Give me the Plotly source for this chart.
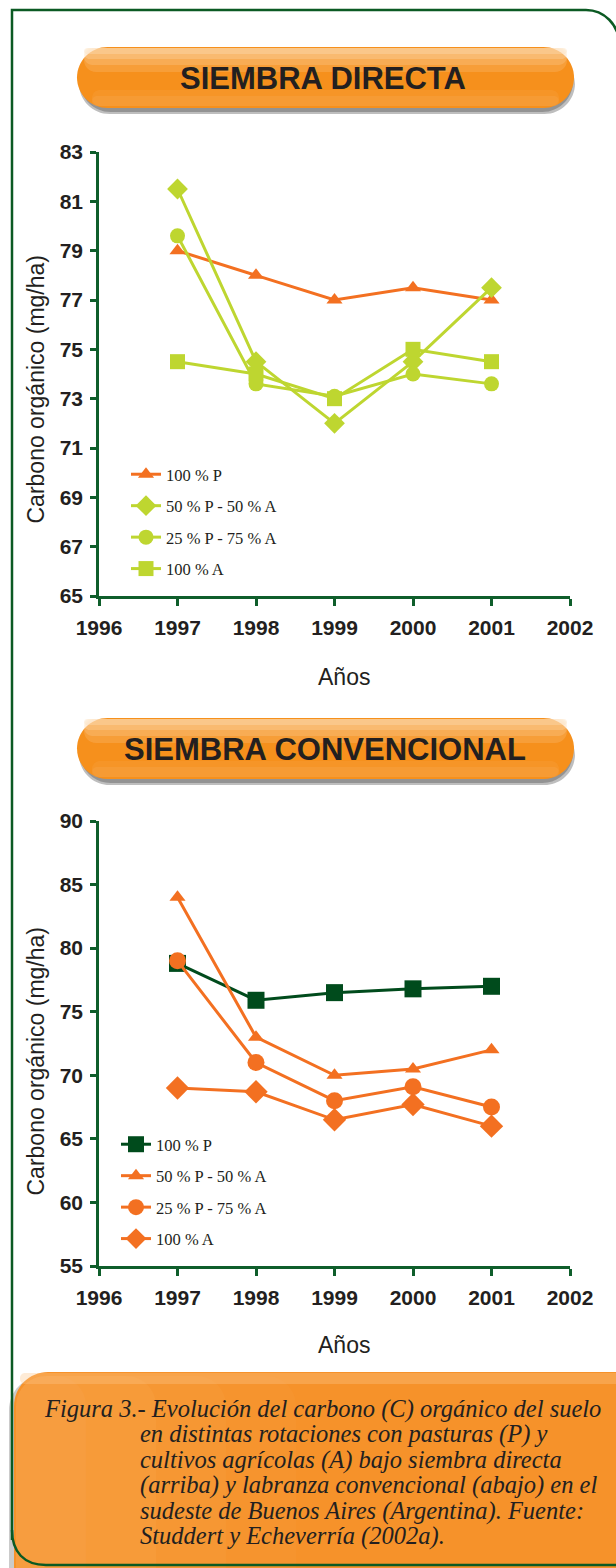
import plotly.graph_objects as go

W, H = 616, 1568

# ---------------- data ----------------
years = [1997, 1998, 1999, 2000, 2001]
series_names = ["100 % P", "50 % P - 50 % A", "25 % P - 75 % A", "100 % A"]

# Siembra directa (top)
sd_100P = [79.0, 78.0, 77.0, 77.5, 77.0]
sd_50P50A = [81.5, 74.5, 72.0, 74.5, 77.5]
sd_25P75A = [79.6, 73.6, 73.1, 74.0, 73.6]
sd_100A = [74.5, 74.0, 73.0, 75.0, 74.5]

# Siembra convencional (bottom)
sc_100P = [78.8, 75.9, 76.5, 76.8, 77.0]
sc_50P50A = [84.0, 73.0, 70.0, 70.5, 72.0]
sc_25P75A = [79.0, 71.0, 68.0, 69.1, 67.5]
sc_100A = [69.0, 68.7, 66.5, 67.7, 66.0]

x_ticks = [1996, 1997, 1998, 1999, 2000, 2001, 2002]
top_yticks = [65, 67, 69, 71, 73, 75, 77, 79, 81, 83]
bot_yticks = [55, 60, 65, 70, 75, 80, 85, 90]

caption_lines = [
    "Figura 3.- Evolución del carbono (C) orgánico del suelo",
    "en distintas rotaciones con pasturas (P) y",
    "cultivos agrícolas (A) bajo siembra directa",
    "(arriba) y labranza convencional (abajo) en el",
    "sudeste de Buenos Aires (Argentina). Fuente:",
    "Studdert y Echeverría (2002a).",
]

# ---------------- styles ----------------
ORANGE = "#f37021"
LIME = "#bed630"
DKGREEN = "#004b1c"
AXGREEN = "#0f5e2b"
TXT = "#231f20"


def px(x):
    return x / W


def py(y):
    return 1 - y / H


def P(x, y):
    return f"{px(x):.5f},{py(y):.5f}"


def rrect(x0, y0, x1, y1, r):
    k = 0.5523 * r
    return (
        f"M{P(x0 + r, y0)} L{P(x1 - r, y0)} "
        f"C{P(x1 - r + k, y0)} {P(x1, y0 + r - k)} {P(x1, y0 + r)} "
        f"L{P(x1, y1 - r)} "
        f"C{P(x1, y1 - r + k)} {P(x1 - r + k, y1)} {P(x1 - r, y1)} "
        f"L{P(x0 + r, y1)} "
        f"C{P(x0 + r - k, y1)} {P(x0, y1 - r + k)} {P(x0, y1 - r)} "
        f"L{P(x0, y0 + r)} "
        f"C{P(x0, y0 + r - k)} {P(x0 + r - k, y0)} {P(x0 + r, y0)} Z"
    )


fig = go.Figure()

top_specs = [
    (sd_100P, ORANGE, "triangle-up", 14),
    (sd_50P50A, LIME, "diamond", 16),
    (sd_25P75A, LIME, "circle", 15),
    (sd_100A, LIME, "square", 15),
]
for i, (vals, col, sym, sz) in enumerate(top_specs):
    fig.add_trace(go.Scatter(
        x=years, y=vals, name=series_names[i], mode="lines+markers",
        line=dict(color=col, width=3),
        marker=dict(symbol=sym, size=sz, color=col),
        xaxis="x", yaxis="y", legend="legend", legendgroup=f"t{i}",
    ))

bot_specs = [
    (sc_100P, DKGREEN, "square", 17),
    (sc_50P50A, ORANGE, "triangle-up", 14),
    (sc_25P75A, ORANGE, "circle", 17),
    (sc_100A, ORANGE, "diamond", 18),
]
for i, (vals, col, sym, sz) in enumerate(bot_specs):
    fig.add_trace(go.Scatter(
        x=years, y=vals, name=series_names[i], mode="lines+markers",
        line=dict(color=col, width=3),
        marker=dict(symbol=sym, size=sz, color=col),
        xaxis="x2", yaxis="y2", legend="legend2", legendgroup=f"b{i}",
    ))

tickfont = dict(family="Liberation Sans, Arial", size=21, color=TXT, weight="bold")
xdom = [px(99), px(570)]


def xaxis(anchor):
    return dict(
        domain=xdom, anchor=anchor, range=[1996, 2002], tickmode="array",
        tickvals=x_ticks, ticktext=[str(t) for t in x_ticks],
        showline=True, linecolor=AXGREEN, linewidth=2.5,
        ticks="outside", ticklen=7, tickwidth=2.5, tickcolor=AXGREEN,
        showgrid=False, zeroline=False, tickfont=tickfont,
        ticklabelstandoff=4, automargin=False, fixedrange=True,
    )


def yaxis(anchor, dom, rng, tv):
    return dict(
        domain=dom, anchor=anchor, range=rng, tickmode="array", tickvals=tv,
        showline=True, linecolor=AXGREEN, linewidth=2.5,
        ticks="outside", ticklen=6, tickwidth=2.5, tickcolor=AXGREEN,
        showgrid=False, zeroline=False, tickfont=tickfont,
        ticklabelstandoff=3, automargin=False, fixedrange=True,
    )


legend_common = dict(
    xanchor="left", yanchor="top", bgcolor="rgba(0,0,0,0)",
    font=dict(family="Liberation Serif, Times New Roman", size=16.5, color=TXT),
    tracegroupgap=7, traceorder="grouped", itemsizing="trace",
)


def S(path, **kw):
    d = dict(type="path", xref="paper", yref="paper", layer="below", path=path,
             line=dict(width=0))
    d.update(kw)
    return d


shapes = []
# caption box with soft shadow and subtle left-side glow
shapes.append(S(rrect(9, 1376, 650, 1620, 34), fillcolor="#8c8c8c", opacity=0.45))
shapes.append(S(rrect(14, 1372, 650, 1620, 34), fillcolor="#f6922a"))
for w, op in [(70, 0.10), (140, 0.10), (210, 0.08), (280, 0.06)]:
    shapes.append(S(rrect(16, 1376, 16 + w, 1600, 30), fillcolor="#fbbd78", opacity=op))
shapes.append(S(rrect(20, 1373, 640, 1384, 5), fillcolor="#fbc58a", opacity=0.35))

# frame
frame = (f"M{P(12, 1540)} L{P(12, 10)} L{P(586, 10)} "
         f"C{P(604, 10)} {P(619, 25)} {P(619, 43)} L{P(619, 1568)}")
shapes.append(S(frame, line=dict(color="#0b5a23", width=2.5)))
bottom_corner = f"M{P(12, 1530)} C{P(12, 1552)} {P(24, 1565)} {P(46, 1565)} L{P(630, 1565)}"
shapes.append(S(bottom_corner, line=dict(color="#0b5a23", width=2.5)))

# header pills (layered to fake a glossy gradient)
for (yt, yb) in [(47, 108), (718, 779)]:
    r = (yb - yt) / 2
    shapes.append(S(rrect(79, yt + 7, 575, yb + 6, r), fillcolor="#444444", opacity=0.35))
    shapes.append(S(rrect(80, yt + 5, 573, yb + 4, r), fillcolor="#444444", opacity=0.35))
    shapes.append(S(rrect(77, yt, 574, yb, r), fillcolor="#f6901c"))
    for h, op in [(24, 0.18), (17, 0.22), (11, 0.28), (6, 0.35)]:
        shapes.append(S(rrect(84, yt + 1, 567, yt + 1 + h, min(h / 2, 12)),
                        fillcolor="#fde0bb", opacity=op))
    for h, op in [(16, 0.15), (10, 0.2)]:
        shapes.append(S(rrect(92, yb - 2 - h, 559, yb - 2, h / 2),
                        fillcolor="#fbb569", opacity=op))

annotations = []
hdr_font = dict(family="Liberation Sans, Arial", size=31, color=TXT, weight="bold")
annotations.append(dict(text="SIEMBRA DIRECTA", x=px(323), y=py(79), xref="paper", yref="paper",
                        xanchor="center", yanchor="middle", showarrow=False, font=hdr_font))
annotations.append(dict(text="SIEMBRA CONVENCIONAL", x=px(325), y=py(749), xref="paper", yref="paper",
                        xanchor="center", yanchor="middle", showarrow=False, font=hdr_font))

lab_font = dict(family="Liberation Sans, Arial", size=23, color=TXT)
for yc in (390, 1062):
    annotations.append(dict(text="Carbono orgánico (mg/ha)", x=px(35.5), y=py(yc), xref="paper",
                            yref="paper", xanchor="center", yanchor="middle", textangle=-90,
                            showarrow=False, font=lab_font))
for yc in (677, 1345):
    annotations.append(dict(text="Años", x=px(344), y=py(yc), xref="paper", yref="paper",
                            xanchor="center", yanchor="middle", showarrow=False, font=lab_font))

cap_font = dict(family="Liberation Serif, Times New Roman", size=24.5, color=TXT, style="italic")
for i, line in enumerate(caption_lines):
    xl = 42 if i == 0 else 138
    annotations.append(dict(text=line, x=px(xl), y=py(1409 + 25.4 * i), xref="paper", yref="paper",
                            xanchor="left", yanchor="middle", showarrow=False, font=cap_font))

fig.update_layout(
    width=W, height=H, margin=dict(l=0, r=0, t=0, b=0),
    paper_bgcolor="white", plot_bgcolor="rgba(0,0,0,0)",
    showlegend=True,
    xaxis=xaxis("y"),
    yaxis=yaxis("x", [py(596), py(152)], [65, 83], top_yticks),
    xaxis2=xaxis("y2"),
    yaxis2=yaxis("x2", [py(1266), py(821)], [55, 90], bot_yticks),
    legend=dict(x=px(126), y=py(457), **legend_common),
    legend2=dict(x=px(116), y=py(1127), **legend_common),
    shapes=shapes, annotations=annotations,
)

fig.write_html(
    "out.html",
    config={"displayModeBar": False},
    post_script="document.body.style.margin='0';document.body.style.padding='0';"
                "document.body.style.overflow='hidden';",
)
